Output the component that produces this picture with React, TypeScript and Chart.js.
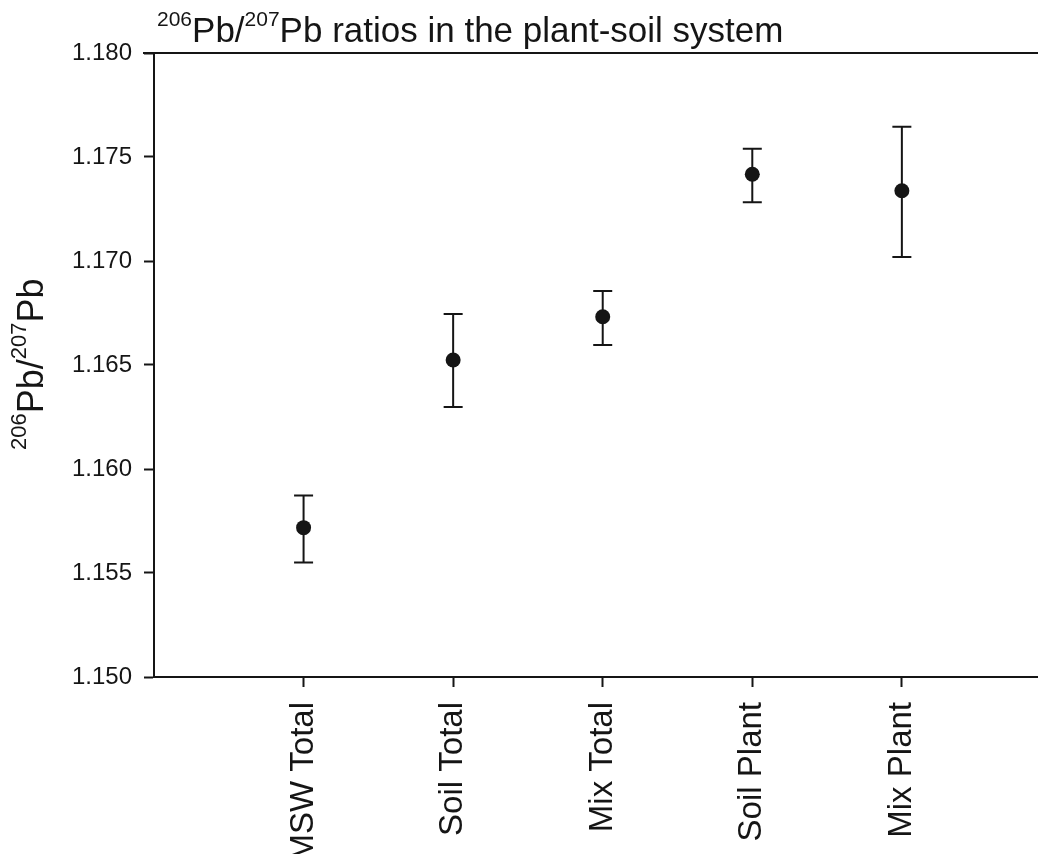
import React, { useEffect, useRef } from "react";
import { Chart, registerables } from "chart.js";

Chart.register(...registerables);

const categories = ["MSW Total", "Soil Total", "Mix Total", "Soil Plant", "Mix Plant"];
const means = [1.15718, 1.16524, 1.16732, 1.17417, 1.17338];
const upper = [1.15872, 1.16745, 1.16856, 1.1754, 1.17646];
const lower = [1.1555, 1.16298, 1.16596, 1.17282, 1.17019];
const yTicks = [1.15, 1.155, 1.16, 1.165, 1.17, 1.175, 1.18];

const INK = "#151515";
const FONT = "'Liberation Sans', Arial, sans-serif";

function drawSupText(
  ctx: CanvasRenderingContext2D,
  parts: { t: string; sup: boolean }[],
  x: number,
  y: number,
  mainSize: number,
  supSize: number,
  supRaise: number
) {
  let cx = x;
  ctx.textAlign = "left";
  ctx.textBaseline = "alphabetic";
  for (const p of parts) {
    ctx.font = `${p.sup ? supSize : mainSize}px ${FONT}`;
    ctx.fillText(p.t, cx, p.sup ? y - supRaise : y);
    cx += ctx.measureText(p.t).width;
  }
  return cx - x;
}

const overlay = {
  id: "overlay",
  beforeDatasetsDraw(chart: any) {
    const ctx = chart.ctx;
    const xs = chart.scales.x;
    const ys = chart.scales.y;
    ctx.save();
    ctx.strokeStyle = INK;
    ctx.lineWidth = 2;
    for (let i = 0; i < means.length; i++) {
      const px = xs.getPixelForValue(i + 1);
      const pt = ys.getPixelForValue(upper[i]);
      const pb = ys.getPixelForValue(lower[i]);
      ctx.beginPath();
      ctx.moveTo(px, pt);
      ctx.lineTo(px, pb);
      ctx.moveTo(px - 9.5, pt);
      ctx.lineTo(px + 9.5, pt);
      ctx.moveTo(px - 9.5, pb);
      ctx.lineTo(px + 9.5, pb);
      ctx.stroke();
    }
    ctx.restore();
  },
  afterDraw(chart: any) {
    const ctx = chart.ctx;
    const area = chart.chartArea;
    ctx.save();
    // top frame line and extension of bottom axis to the page edge
    ctx.strokeStyle = INK;
    ctx.lineWidth = 2;
    ctx.beginPath();
    ctx.moveTo(area.left - 11, area.top);
    ctx.lineTo(chart.width, area.top);
    ctx.moveTo(area.right - 1, area.bottom);
    ctx.lineTo(chart.width, area.bottom);
    ctx.stroke();
    ctx.fillStyle = INK;
    // title
    drawSupText(
      ctx,
      [
        { t: "206", sup: true },
        { t: "Pb/", sup: false },
        { t: "207", sup: true },
        { t: "Pb ratios in the plant-soil system", sup: false },
      ],
      157,
      42,
      35,
      21,
      16
    );
    // y-axis title
    ctx.save();
    ctx.translate(43, 450);
    ctx.rotate(-Math.PI / 2);
    drawSupText(
      ctx,
      [
        { t: "206", sup: true },
        { t: "Pb/", sup: false },
        { t: "207", sup: true },
        { t: "Pb", sup: false },
      ],
      0,
      0,
      36,
      22,
      17
    );
    ctx.restore();
    ctx.restore();
  },
};

export default function App() {
  const ref = useRef<HTMLCanvasElement | null>(null);
  useEffect(() => {
    if (!ref.current) return;
    const chart = new Chart(ref.current, {
      type: "scatter",
      data: {
        datasets: [
          {
            data: means.map((v, i) => ({ x: i + 1, y: v })),
            pointRadius: 7.5,
            pointBackgroundColor: INK,
            pointBorderColor: INK,
            pointBorderWidth: 0,
            showLine: false,
          },
        ],
      },
      options: {
        animation: false,
        responsive: false,
        maintainAspectRatio: false,
        layout: { padding: { top: 53, right: 0, left: 0, bottom: 0 } },
        plugins: {
          legend: { display: false },
          tooltip: { enabled: false },
          title: { display: false },
        },
        scales: {
          x: {
            type: "linear",
            min: 0,
            max: 5.86,
            afterBuildTicks: (s: any) => {
              s.ticks = categories.map((_, i) => ({ value: i + 1 }));
            },
            afterFit: (s: any) => {
              s.height = 854 - 677;
            },
            ticks: {
              autoSkip: false,
              minRotation: 90,
              maxRotation: 90,
              padding: 15,
              color: INK,
              font: { family: FONT, size: 33 },
              callback: (v: any) => categories[Math.round(Number(v)) - 1] ?? "",
            },
            grid: {
              display: true,
              drawOnChartArea: false,
              drawTicks: true,
              tickLength: 10,
              tickWidth: 2,
              color: INK,
            },
            border: { display: true, color: INK, width: 2 },
          },
          y: {
            type: "linear",
            min: 1.15,
            max: 1.18,
            afterBuildTicks: (s: any) => {
              s.ticks = yTicks.map((v) => ({ value: v }));
            },
            afterFit: (s: any) => {
              s.width = 154;
            },
            ticks: {
              padding: 12,
              color: INK,
              font: { family: FONT, size: 24 },
              callback: (v: any) => Number(v).toFixed(3),
            },
            grid: {
              display: true,
              drawOnChartArea: false,
              drawTicks: true,
              tickLength: 10,
              tickWidth: 2,
              color: INK,
            },
            border: { display: true, color: INK, width: 2 },
          },
        },
      },
      plugins: [overlay],
    } as any);
    return () => chart.destroy();
  }, []);
  return (
    <div style={{ position: "fixed", left: 0, top: 0, width: 1038, height: 854, background: "#fff" }}>
      <canvas ref={ref} width={1038} height={854} style={{ display: "block" }} />
    </div>
  );
}
